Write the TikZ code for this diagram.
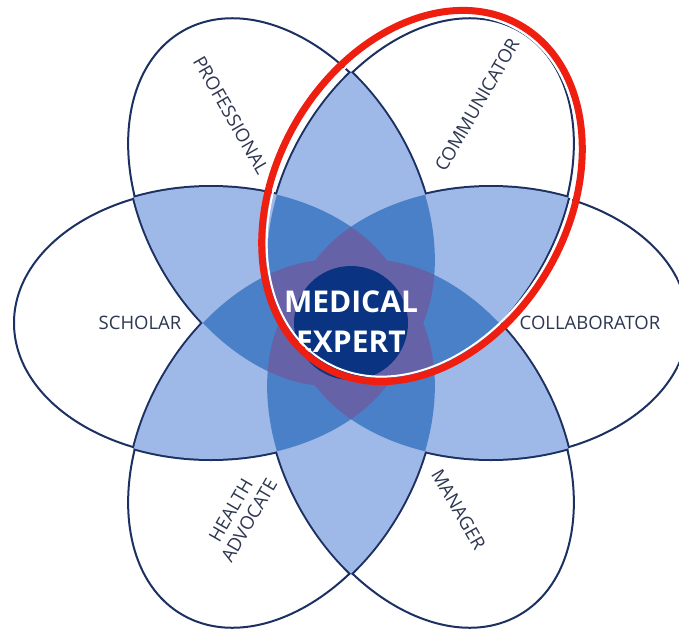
\documentclass[tikz,border=0pt]{standalone}
\usepackage{fontspec}
\setmainfont{Open Sans}
\usepackage{tikz}

\definecolor{petalline}{RGB}{28,48,98}
\definecolor{petallight}{RGB}{158,184,231}
\definecolor{petalmid}{RGB}{74,128,200}
\definecolor{petalpurple}{RGB}{102,98,168}
\definecolor{expertnavy}{RGB}{10,52,130}
\definecolor{labeltext}{RGB}{45,55,82}
\definecolor{annotred}{RGB}{238,30,16}

\begin{document}
\begin{tikzpicture}[
    x=1pt, y=1pt,
    petal/.style={x radius=198pt, y radius=136pt, rotate=#1},
    role/.style={text=labeltext, inner sep=0pt, align=center,
                 font=\fontsize{18.5}{21}\selectfont},
  ]
  \useasboundingbox (-351,-315) rectangle (328,323);
  \fill[white] (-351,-315) rectangle (328,323);

  % Petal outlines (only the inner half survives)
  \begin{scope}
    \clip \foreach \a in {0,60,...,300} { (\a:140) ellipse [petal=\a] };
    \foreach \a in {0,60,...,300}
      \draw[petalline, line width=4pt] (\a:140) ellipse [petal=\a];
  \end{scope}

  % Two petals overlap
  \foreach \a in {0,60,...,300}
    \foreach \b in {0,60,...,300} {
      \ifnum\a<\b
        \begin{scope}
          \clip (\a:140) ellipse [petal=\a];
          \fill[petallight] (\b:140) ellipse [petal=\b];
        \end{scope}
      \fi
    }

  % Three petals overlap
  \foreach \a in {0,60,...,300}
    \foreach \b in {0,60,...,300}
      \foreach \c in {0,60,...,300} {
        \ifnum\a<\b \ifnum\b<\c
          \begin{scope}
            \clip (\a:140) ellipse [petal=\a];
            \clip (\b:140) ellipse [petal=\b];
            \fill[petalmid] (\c:140) ellipse [petal=\c];
          \end{scope}
        \fi\fi
      }

  % Four or more petals overlap
  \foreach \a in {0,60,...,300}
    \foreach \b in {0,60,...,300}
      \foreach \c in {0,60,...,300}
        \foreach \d in {0,60,...,300} {
          \ifnum\a<\b \ifnum\b<\c \ifnum\c<\d
            \begin{scope}
              \clip (\a:140) ellipse [petal=\a];
              \clip (\b:140) ellipse [petal=\b];
              \clip (\c:140) ellipse [petal=\c];
              \fill[petalpurple] (\d:140) ellipse [petal=\d];
            \end{scope}
          \fi\fi\fi
        }

  % Core
  \fill[expertnavy] (0,0) circle [radius=57pt];
  \node[text=white, inner sep=0pt, align=center,
        font=\bfseries\fontsize{30}{40}\selectfont] (expert) at (0,1)
    {MEDICAL\\EXPERT};

  % Roles
  \node[role] (scholar)  at (-211,0) {SCHOLAR};
  \node[role] (collab)   at (239,0)  {COLLABORATOR};
  \node[role, rotate=-60] (prof) at (120:240) {PROFESSIONAL};
  \node[role, rotate=60]  (comm) at (60:252)  {COMMUNICATOR};
  \node[role, rotate=60]  (advocate) at (240:222) {HEALTH\\ADVOCATE};
  \node[role, rotate=-60] (manager)  at (300:215) {MANAGER};

  % Red mark
  \draw[white, line width=2pt] (71,127) ellipse [x radius=192pt, y radius=141pt, rotate=60];
  \draw[annotred, line width=7pt] (71,127) ellipse [x radius=197pt, y radius=146pt, rotate=60];

\end{tikzpicture}
\end{document}
